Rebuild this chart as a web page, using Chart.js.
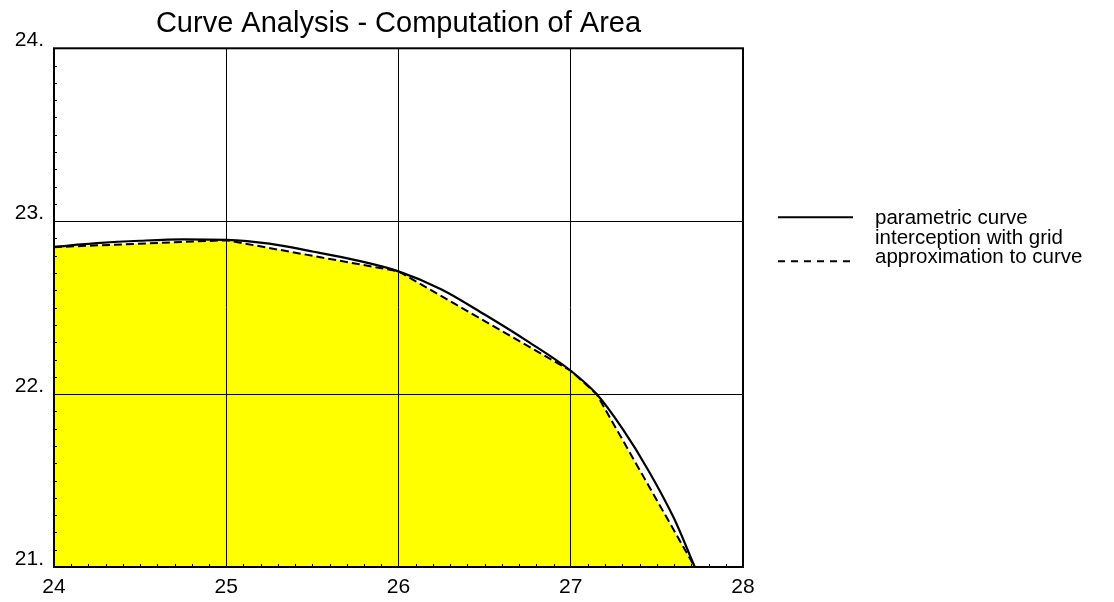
<!DOCTYPE html>
<html><head><meta charset="utf-8">
<script src="https://cdn.jsdelivr.net/npm/chart.js@4.4.0/dist/chart.umd.min.js"></script>
<style>html,body{margin:0;padding:0;background:#fff;} #wrap{width:1114px;height:602px;}</style>
</head><body><div id="wrap"><canvas id="c" width="1114" height="602"></canvas></div>
<script>
const titleText = 'Curve Analysis - Computation of Area';
const curveX = [24.0, 24.25, 24.5, 24.75, 25.0, 25.25, 25.5, 25.75, 26.0, 26.25, 26.5, 26.75, 27.0, 27.15, 27.3, 27.45, 27.6, 27.72];
const curveY = [22.852, 22.873, 22.887, 22.895, 22.892, 22.87, 22.825, 22.775, 22.71, 22.605, 22.46, 22.305, 22.135, 22.0, 21.8, 21.56, 21.28, 21.0];
const approxX = [24, 25, 26, 27, 27.15, 27.72];
const approxY = [22.85, 22.89, 22.71, 22.135, 22.0, 21.0];
const xTicks = [24, 25, 26, 27, 28];
const yTicks = [21, 22, 23, 24];
const legendLabels = ['parametric curve', 'interception with grid', 'approximation to curve'];

const FONT = '"Liberation Sans", Arial, sans-serif';

const framePlugin = {
  id: 'frame',
  afterDraw(chart) {
    const {ctx, chartArea: a, scales: {x, y}} = chart;
    ctx.save();
    ctx.strokeStyle = '#000';
    ctx.lineWidth = 1;
    for (let i = 0; i < xTicks.length - 1; i++) {
      for (let k = 1; k < 10; k++) {
        const px = Math.round(x.getPixelForValue(xTicks[i] + k * (xTicks[i + 1] - xTicks[i]) / 10)) + 0.5;
        ctx.beginPath(); ctx.moveTo(px, a.bottom); ctx.lineTo(px, a.bottom - 3); ctx.stroke();
      }
    }
    for (let i = 0; i < yTicks.length - 1; i++) {
      for (let k = 1; k < 10; k++) {
        const py = Math.round(y.getPixelForValue(yTicks[i] + k * (yTicks[i + 1] - yTicks[i]) / 10)) + 0.5;
        ctx.beginPath(); ctx.moveTo(a.left, py); ctx.lineTo(a.left + 3, py); ctx.stroke();
      }
    }
    ctx.lineWidth = 2;
    ctx.strokeRect(a.left, a.top, a.width, a.height);

    // legend
    const lx0 = a.right + 35, lx1 = a.right + 110, tx = a.right + 132;
    const rows = [a.top + 170, a.top + 190, a.top + 209];
    ctx.lineWidth = 2;
    ctx.beginPath(); ctx.moveTo(lx0, rows[0] - 1); ctx.lineTo(lx1, rows[0] - 1); ctx.stroke();
    ctx.setLineDash([7, 6]);
    ctx.beginPath(); ctx.moveTo(lx0, rows[2] + 4); ctx.lineTo(lx1, rows[2] + 4); ctx.stroke();
    ctx.setLineDash([]);
    ctx.fillStyle = '#000';
    ctx.font = '20.5px ' + FONT;
    ctx.textBaseline = 'middle';
    ctx.textAlign = 'left';
    legendLabels.forEach((t, i) => ctx.fillText(t, tx, rows[i]));
    ctx.restore();
  }
};

new Chart(document.getElementById('c'), {
  type: 'scatter',
  data: {
    datasets: [
      {
        label: legendLabels[0],
        data: curveX.map((v, i) => ({x: v, y: curveY[i]})),
        showLine: true, borderColor: '#000', borderWidth: 2.2, pointRadius: 0,
        cubicInterpolationMode: 'monotone', fill: false, order: 1
      },
      {
        label: legendLabels[2],
        data: approxX.map((v, i) => ({x: v, y: approxY[i]})),
        showLine: true, borderColor: '#000', borderWidth: 2, borderDash: [8, 4],
        pointRadius: 0, tension: 0, fill: 'start', backgroundColor: '#ffff00', order: 2
      }
    ]
  },
  plugins: [framePlugin],
  options: {
    responsive: false,
    animation: false,
    devicePixelRatio: 1,
    layout: {padding: {left: 0, right: 371, top: 0, bottom: 0}},
    plugins: {
      legend: {display: false},
      tooltip: {enabled: false},
      title: {
        display: true, text: titleText, color: '#000', fullSize: false,
        font: {family: FONT, size: 29, weight: 'normal'},
        padding: {top: 7, bottom: 6.5}
      }
    },
    scales: {
      x: {
        type: 'linear', min: xTicks[0], max: xTicks[xTicks.length - 1],
        afterBuildTicks: s => { s.ticks = xTicks.map(v => ({value: v})); },
        afterFit: s => { s.height = 35; },
        grid: {color: '#000', lineWidth: 1, drawTicks: false, z: 1},
        border: {display: false},
        ticks: {color: '#000', padding: 8, font: {family: FONT, size: 21}, maxRotation: 0}
      },
      y: {
        type: 'linear', min: yTicks[0], max: yTicks[yTicks.length - 1],
        afterBuildTicks: s => { s.ticks = yTicks.map(v => ({value: v})); },
        afterFit: s => { s.width = 54; },
        grid: {color: '#000', lineWidth: 1, drawTicks: false, z: 1},
        border: {display: false},
        ticks: {color: '#000', padding: 10, labelOffset: -8, font: {family: FONT, size: 21},
          callback: v => v + '.'}
      }
    }
  }
});
</script>
</body></html>
